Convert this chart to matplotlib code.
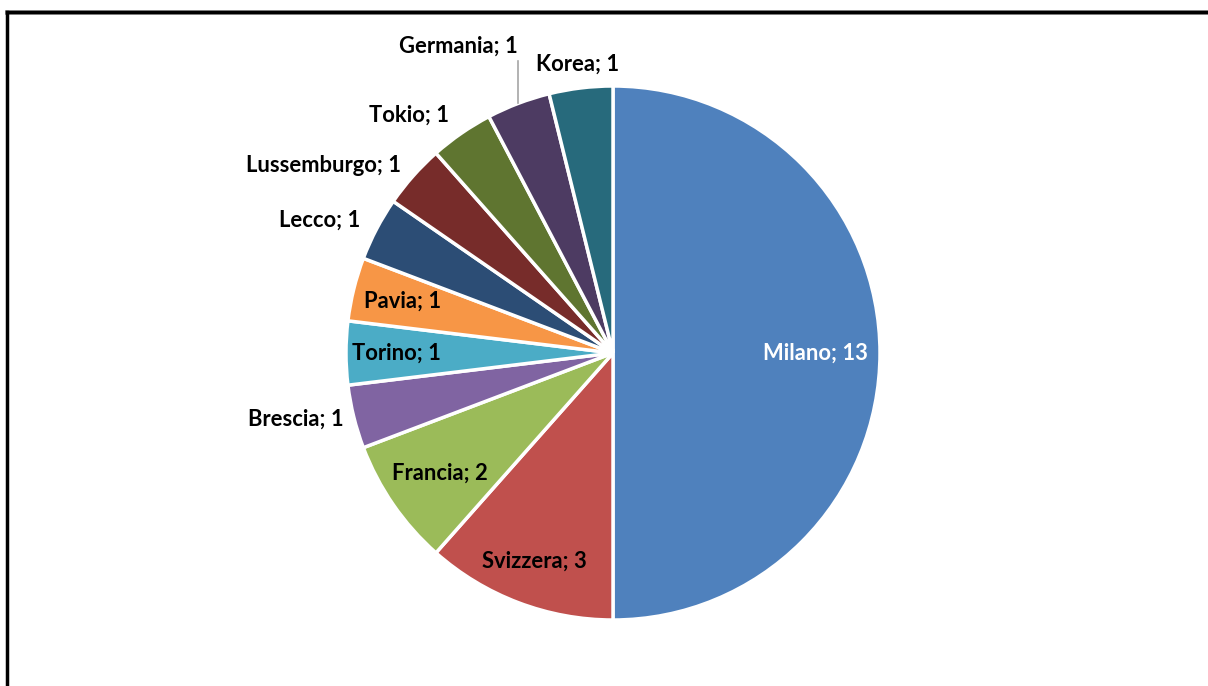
import numpy as np
import matplotlib
matplotlib.use("Agg")
import matplotlib.pyplot as plt
from matplotlib.lines import Line2D

# Origin of the contacts
labels = ["Milano", "Svizzera", "Francia", "Brescia", "Torino", "Pavia",
          "Lecco", "Lussemburgo", "Tokio", "Germania", "Korea"]
values = [13, 3, 2, 1, 1, 1, 1, 1, 1, 1, 1]
colors = ["#4F81BD", "#C0504D", "#9BBB59", "#8064A2", "#4BACC6", "#F79646",
          "#2C4D75", "#772C2A", "#5F7530", "#4D3B62", "#276A7C"]

# label placement: (radius factor, horizontal alignment, text colour)
placement = {
    "Milano": (0.76, "center", "white"),
    "Svizzera": (0.835, "center", "black"),
    "Francia": (0.79, "center", "black"),
    "Brescia": (1.04, "right", "black"),
    "Torino": (0.81, "center", "black"),
    "Pavia": (0.81, "center", "black"),
    "Lecco": (1.07, "right", "black"),
    "Lussemburgo": (1.06, "right", "black"),
    "Tokio": (1.08, "right", "black"),
    "Korea": (1.09, "center", "black"),
}

W, H = 1208, 686
fig = plt.figure(figsize=(W / 100, H / 100), dpi=100)
ax = fig.add_axes([0, 0, 1, 1])

cx, cy, R = 613, H - 353, 267
wedges, _ = ax.pie(values, colors=colors, startangle=90, counterclock=False,
                   center=(cx, cy), radius=R,
                   wedgeprops=dict(edgecolor="white", linewidth=2.5))
ax.set_xlim(0, W)
ax.set_ylim(0, H)
ax.set_aspect("equal")
ax.axis("off")

font = dict(family="Lato", weight="bold", fontsize=15.8)
for w, lab, v in zip(wedges, labels, values):
    ang = np.deg2rad((w.theta1 + w.theta2) / 2)
    txt = f"{lab}; {v}"
    if lab == "Germania":
        x0, y0 = cx + R * np.cos(ang), cy + R * np.sin(ang)
        ax.plot([x0, x0], [y0, y0 + 42], color="#A6A6A6", lw=1.2)
        ax.text(x0 - 1, y0 + 47, txt, ha="right", va="bottom", color="black", **font)
        continue
    f, ha, col = placement[lab]
    ax.text(cx + f * R * np.cos(ang), cy + f * R * np.sin(ang), txt,
            ha=ha, va="center", color=col, **font)

# frame lines along the top and left edges
fig.add_artist(Line2D([7 / W, 1], [1 - 12 / H, 1 - 12 / H], color="#A0A0A0", lw=3.5,
                      transform=fig.transFigure))
fig.add_artist(Line2D([7 / W, 1], [1 - 12 / H, 1 - 12 / H], color="black", lw=2.5,
                      transform=fig.transFigure))
fig.add_artist(Line2D([7 / W, 7 / W], [0, 1 - 12 / H], color="black", lw=2.5,
                      transform=fig.transFigure))

fig.savefig("out.png", dpi=100, facecolor="white")
